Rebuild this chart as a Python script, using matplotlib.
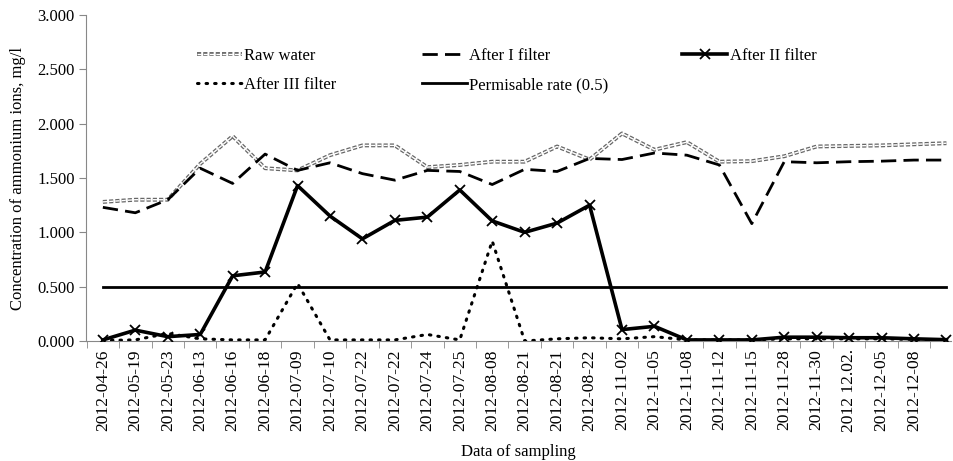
import matplotlib
matplotlib.use("Agg")
import matplotlib.pyplot as plt
import matplotlib.patheffects as pe
import numpy as np

dates = ["2012-04-26", "2012-05-19", "2012-05-23", "2012-06-13", "2012-06-16",
         "2012-06-18", "2012-07-09", "2012-07-10", "2012-07-22", "2012-07-22",
         "2012-07-24", "2012-07-25", "2012-08-08", "2012-08-21", "2012-08-21",
         "2012-08-22", "2012-11-02", "2012-11-05", "2012-11-08", "2012-11-12",
         "2012-11-15", "2012-11-28", "2012-11-30", "2012 12.02.", "2012-12-05",
         "2012-12-08", ""]

raw_water = [1.28, 1.30, 1.30, 1.63, 1.885, 1.59, 1.57, 1.71, 1.80, 1.80,
             1.60, 1.62, 1.65, 1.65, 1.79, 1.67, 1.91, 1.76, 1.83, 1.65,
             1.655, 1.70, 1.79, 1.795, 1.80, 1.81, 1.82]
after_1 = [1.23, 1.18, 1.30, 1.59, 1.45, 1.72, 1.57, 1.64, 1.54, 1.48,
           1.57, 1.56, 1.44, 1.58, 1.56, 1.68, 1.67, 1.73, 1.71, 1.62,
           1.08, 1.65, 1.64, 1.65, 1.655, 1.665, 1.665]
after_2 = [0.01, 0.10, 0.04, 0.06, 0.60, 0.635, 1.43, 1.15, 0.94, 1.11,
           1.14, 1.39, 1.105, 1.00, 1.085, 1.25, 0.105, 0.135, 0.01, 0.01,
           0.01, 0.035, 0.035, 0.03, 0.03, 0.02, 0.012]
after_3 = [0.005, 0.01, 0.07, 0.02, 0.01, 0.01, 0.53, 0.01, 0.01, 0.01,
           0.06, 0.01, 0.92, 0.0, 0.02, 0.03, 0.02, 0.04, 0.01, 0.01,
           0.01, 0.02, 0.02, 0.02, 0.02, 0.015, 0.01]
permissible = [0.5] * len(dates)

plt.rcParams['font.family'] = ['Liberation Serif', 'DejaVu Serif']

fig = plt.figure(figsize=(9.54, 4.61), dpi=100)
ax = fig.add_axes([86/954, 1 - 341/461, (951-86)/954, (341-15)/461])

x = np.arange(len(dates))

l_raw, = ax.plot(x, raw_water, color='white', lw=1.0, linestyle=(0, (3, 1.5)),
                 path_effects=[pe.Stroke(linewidth=2.8, foreground='#666666'), pe.Normal()],
                 label='Raw water', zorder=3)
l_1, = ax.plot(x, after_1, color='black', lw=2.0, linestyle=(0, (5.5, 2.6)),
               label='After I filter', zorder=3)
l_2, = ax.plot(x, after_2, color='black', lw=2.6, marker='x', markersize=7,
               markeredgewidth=1.3, label='After II filter', zorder=4)
l_3, = ax.plot(x, after_3, color='black', lw=2.2, linestyle=(0, (0.5, 2.3)),
               dash_capstyle='round', label='After III filter', zorder=3)
l_p, = ax.plot(x, permissible, color='black', lw=2.0, label='Permisable rate (0.5)', zorder=3)

ax.set_ylim(0, 3.0)
yt = np.arange(0, 3.01, 0.5)
ax.set_yticks(yt)
ax.set_yticklabels([f"{v:.3f}" for v in yt], fontsize=12)
ax.set_xlim(-0.52, 26.14)
ax.set_xticks(x)
ax.set_xticklabels(dates, rotation=90, fontsize=12.6)
ax.tick_params(axis='x', length=0, pad=6)
ax.set_xticks(np.arange(-0.5, 26.5, 1.0), minor=True)
ax.tick_params(axis='x', which='minor', length=5, color='#888888', direction='out')
ax.tick_params(axis='y', length=5, color='#888888', direction='out', pad=3)

for s in ['top', 'right']:
    ax.spines[s].set_visible(False)
ax.spines['left'].set_color('#888888')
ax.spines['bottom'].set_color('#888888')

ax.set_ylabel('Concentration of ammonium ions, mg/l', fontsize=12, labelpad=8)
ax.set_xlabel('Data of sampling', fontsize=12, labelpad=8)

legend_cols = [([l_raw, l_3], 197), ([l_1, l_p], 422), ([l_2], 682)]
for hs, xl in legend_cols:
    lg = fig.legend(hs, [h.get_label() for h in hs], loc='upper left',
                    bbox_to_anchor=(xl/954, 1 - 48/461), bbox_transform=fig.transFigure,
                    frameon=False, fontsize=12, handlelength=2.7, handletextpad=0.15,
                    borderpad=0, borderaxespad=0, labelspacing=0.8)

fig.savefig('out.png', dpi=100)
